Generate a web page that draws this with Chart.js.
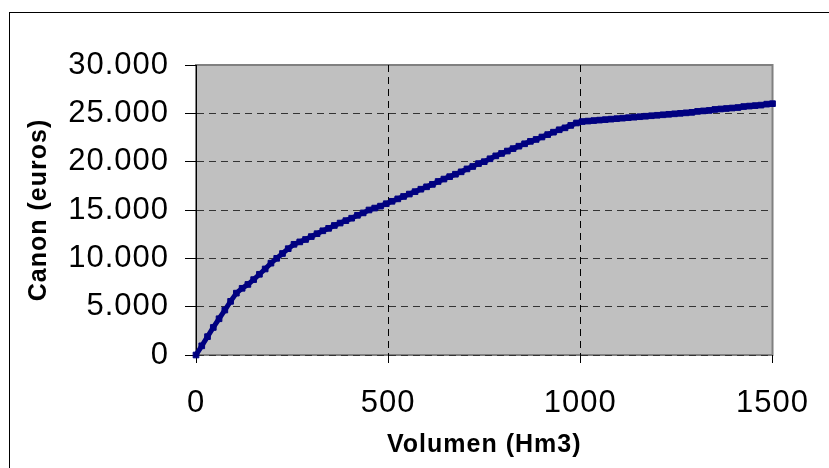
<!DOCTYPE html>
<html>
<head>
<meta charset="utf-8">
<script src="https://cdn.jsdelivr.net/npm/chart.js@4"></script>
<style>
  html, body { margin: 0; padding: 0; background: #fff; }
  #wrap { width: 829px; height: 468px; position: relative; }
</style>
</head>
<body>
<div id="wrap"><canvas id="canonChart"></canvas></div>
<script>
// volumen (Hm3) vs canon (euros)
const volumen = [
  0, 15, 30, 45, 60, 75, 90, 105, 120, 135, 150, 165, 180, 195, 210, 225, 240, 255, 270, 285,
  300, 315, 330, 345, 360, 375, 390, 405, 420, 435, 450, 465, 480, 495, 510, 525, 540, 555, 570, 585,
  600, 615, 630, 645, 660, 675, 690, 705, 720, 735, 750, 765, 780, 795, 810, 825, 840, 855, 870, 885,
  900, 915, 930, 945, 960, 975, 990, 1005, 1020, 1035, 1050, 1065, 1080, 1095, 1110, 1125, 1140, 1155, 1170, 1185,
  1200, 1215, 1230, 1245, 1260, 1275, 1290, 1305, 1320, 1335, 1350, 1365, 1380, 1395, 1410, 1425, 1440, 1455, 1470, 1485,
  1500
];
const canon = [
  0, 950, 1900, 2850, 3750, 4650, 5550, 6400, 6900, 7300, 7800, 8350, 8900, 9500, 10000, 10500, 11000, 11450, 11700, 11950,
  12250, 12550, 12850, 13100, 13400, 13650, 13900, 14150, 14450, 14700, 15000, 15200, 15400, 15650, 15900, 16150, 16400, 16650, 16900, 17150,
  17400, 17650, 17950, 18200, 18450, 18700, 18950, 19250, 19500, 19800, 20000, 20300, 20600, 20850, 21100, 21350, 21600, 21850, 22100, 22300,
  22550, 22800, 23050, 23300, 23500, 23750, 24000, 24150, 24200, 24250, 24300, 24350, 24400, 24450, 24500, 24550, 24600, 24650, 24700, 24750,
  24800, 24850, 24900, 24950, 25000, 25050, 25100, 25200, 25250, 25300, 25400, 25450, 25500, 25550, 25600, 25700, 25750, 25800, 25850, 25950,
  26000
];
const volumenTicks = [0, 500, 1000, 1500];
const canonTicks = [0, 5000, 10000, 15000, 20000, 25000, 30000];

const FONT = '"Liberation Sans", Arial, sans-serif';

function miles(v) {
  return String(v).replace(/\B(?=(\d{3})+(?!\d))/g, '.');
}

// grey plot area + outer frame
const frame = {
  id: 'frame',
  beforeDraw(chart) {
    const { ctx, chartArea: a } = chart;
    ctx.letterSpacing = '1px';
    ctx.save();
    ctx.fillStyle = '#c0c0c0';
    ctx.fillRect(a.left, a.top, a.right - a.left, a.bottom - a.top);
    ctx.strokeStyle = '#808080';
    ctx.lineWidth = 2;
    ctx.strokeRect(a.left, a.top, a.right - a.left, a.bottom - a.top);
    ctx.strokeStyle = '#000';
    ctx.lineWidth = 1;
    ctx.strokeRect(9.5, 12.5, 900, 600);
    ctx.restore();
  }
};

new Chart(document.getElementById('canonChart'), {
  type: 'line',
  data: {
    datasets: [{
      data: volumen.map((v, i) => ({ x: v, y: canon[i] })),
      borderColor: '#000080',
      backgroundColor: '#000080',
      borderWidth: 5,
      pointStyle: 'rect',
      pointRadius: 4,
      pointBorderWidth: 1,
      tension: 0,
      clip: false
    }]
  },
  options: {
    responsive: true,
    maintainAspectRatio: false,
    animation: false,
    layout: { padding: { top: 65, right: 52, left: 0, bottom: 0 } },
    plugins: { legend: { display: false }, tooltip: { enabled: false } },
    scales: {
      x: {
        type: 'linear',
        min: 0, max: 1500,
        afterBuildTicks: s => { s.ticks = volumenTicks.map(v => ({ value: v })); },
        afterFit: s => { s.height = 113; },
        border: { display: false, dash: [7, 5] },
        grid: {
          color: c => (c.tick && (c.tick.value === 0 || c.tick.value === 1500)) ? 'rgba(0,0,0,0)' : '#000',
          lineWidth: 1,
          tickLength: 8,
          tickColor: '#000',
          tickBorderDash: []
        },
        ticks: {
          color: '#000',
          padding: 22,
          maxRotation: 0,
          font: { family: FONT, size: 31 },
          callback: v => String(v)
        },
        title: {
          display: true,
          text: 'Volumen (Hm3)',
          color: '#000',
          padding: { top: 0, bottom: 8 },
          font: { family: FONT, size: 25, weight: 'bold' }
        }
      },
      y: {
        min: 0, max: 30000,
        afterBuildTicks: s => { s.ticks = canonTicks.map(v => ({ value: v })); },
        afterFit: s => { s.width = 196; },
        border: { display: true, color: '#000', width: 1, dash: [7, 5] },
        grid: {
          color: c => (c.tick && c.tick.value === 30000) ? 'rgba(0,0,0,0)' : '#333',
          lineWidth: 1,
          tickLength: 11,
          tickColor: '#000',
          tickBorderDash: []
        },
        ticks: {
          color: '#000',
          padding: 16,
          font: { family: FONT, size: 31 },
          callback: v => miles(v)
        },
        title: {
          display: true,
          text: 'Canon (euros)',
          color: '#000',
          padding: { top: 24, bottom: 0 },
          font: { family: FONT, size: 25, weight: 'bold' }
        }
      }
    }
  },
  plugins: [frame]
});
</script>
</body>
</html>
